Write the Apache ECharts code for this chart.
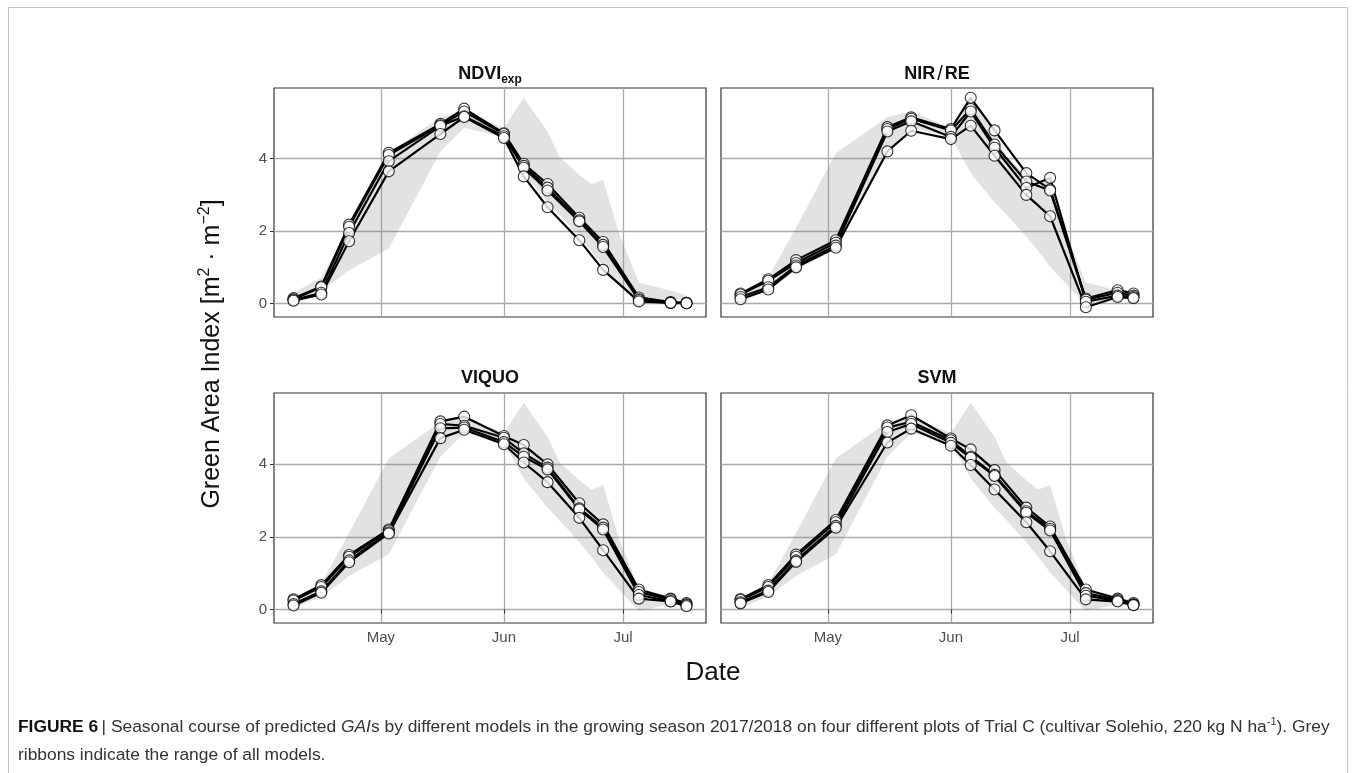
<!DOCTYPE html>
<html>
<head>
<meta charset="utf-8">
<script src="https://cdn.jsdelivr.net/npm/echarts@6/dist/echarts.min.js"></script>
<style>
html, body { margin: 0; padding: 0; background: #fff; }
#chart { width: 1356px; height: 773px; }
</style>
</head>
<body>
<div id="chart"></div>
<script>
// Messtermine (gleich fuer alle vier Parzellen)
const dates = ['2018-04-09', '2018-04-16', '2018-04-23', '2018-05-03', '2018-05-16', '2018-05-22', '2018-06-01',
    '2018-06-06', '2018-06-12', '2018-06-20', '2018-06-26', '2018-07-05', '2018-07-13', '2018-07-17'];

// grauer Bereich: Spannweite aller Modelle
const ribbonDates = ['2018-04-09', '2018-04-16', '2018-04-23', '2018-05-03', '2018-05-16', '2018-05-22', '2018-06-01',
    '2018-06-06', '2018-06-12', '2018-06-15', '2018-06-20', '2018-06-23', '2018-06-26', '2018-06-30',
    '2018-07-05', '2018-07-13', '2018-07-17'];
const ribbonLow = [0.05, 0.35, 0.92, 1.52, 4.20, 4.85, 4.60, 3.60, 2.80, 2.45, 1.85, 1.45, 1.02, 0.55, -0.05, 0.15, 0.08];
const ribbonHigh = [0.30, 0.72, 2.10, 4.15, 5.15, 5.30, 4.85, 5.68, 4.75, 4.05, 3.55, 3.30, 3.42, 1.95, 0.58, 0.36, 0.22];

// GAI je Modell, eine Zeile pro Parzelle
const gaiNdviExp = [
    [0.15, 0.47, 2.18, 4.16, 4.96, 5.38, 4.70, 3.86, 3.30, 2.37, 1.70, 0.17, 0.04, 0.02],
    [0.12, 0.45, 2.12, 4.10, 4.92, 5.30, 4.68, 3.80, 3.20, 2.30, 1.62, 0.12, 0.03, 0.02],
    [0.10, 0.30, 1.95, 3.93, 4.90, 5.17, 4.62, 3.75, 3.12, 2.27, 1.56, 0.10, 0.02, 0.01],
    [0.08, 0.25, 1.72, 3.65, 4.68, 5.15, 4.57, 3.51, 2.66, 1.75, 0.93, 0.06, 0.02, 0.01]
];
const gaiNirRe = [
    [0.28, 0.67, 1.20, 1.75, 4.87, 5.14, 4.82, 5.68, 4.78, 3.60, 3.15, 0.14, 0.37, 0.28],
    [0.25, 0.63, 1.12, 1.68, 4.82, 5.10, 4.78, 5.37, 4.39, 3.37, 3.12, 0.11, 0.30, 0.22],
    [0.18, 0.45, 1.05, 1.60, 4.75, 5.03, 4.60, 5.30, 4.30, 3.19, 3.47, 0.05, 0.22, 0.18],
    [0.12, 0.39, 1.00, 1.54, 4.20, 4.77, 4.54, 4.91, 4.08, 3.00, 2.41, -0.10, 0.18, 0.15]
];
const gaiViquo = [
    [0.28, 0.67, 1.50, 2.20, 5.17, 5.30, 4.77, 4.52, 3.99, 2.92, 2.34, 0.55, 0.30, 0.18],
    [0.25, 0.62, 1.45, 2.17, 5.10, 5.05, 4.72, 4.29, 3.90, 2.78, 2.25, 0.48, 0.28, 0.15],
    [0.15, 0.50, 1.35, 2.12, 4.98, 5.00, 4.60, 4.20, 3.85, 2.75, 2.20, 0.40, 0.23, 0.12],
    [0.11, 0.46, 1.30, 2.09, 4.71, 4.94, 4.54, 4.04, 3.50, 2.52, 1.63, 0.30, 0.22, 0.09]
];
const gaiSvm = [
    [0.29, 0.67, 1.51, 2.46, 5.06, 5.34, 4.70, 4.40, 3.83, 2.80, 2.28, 0.55, 0.30, 0.18],
    [0.26, 0.62, 1.45, 2.40, 5.00, 5.16, 4.65, 4.20, 3.70, 2.70, 2.22, 0.45, 0.27, 0.15],
    [0.20, 0.52, 1.35, 2.30, 4.88, 5.10, 4.58, 4.17, 3.67, 2.66, 2.17, 0.38, 0.24, 0.13],
    [0.17, 0.48, 1.31, 2.25, 4.59, 4.97, 4.50, 3.97, 3.30, 2.40, 1.60, 0.28, 0.22, 0.12]
];

// Datum -> Zeitstempel (lokal)
function ts(s) {
    const [y, m, d] = s.split('-').map(Number);
    return new Date(y, m - 1, d).getTime();
}

// Achsen
const monthTicks = ['2018-05-01', '2018-06-01', '2018-07-01'].map(ts);
const monthNames = ['Jan', 'Feb', 'Mar', 'Apr', 'May', 'Jun', 'Jul', 'Aug', 'Sep', 'Oct', 'Nov', 'Dec'];
const yTicks = [0, 2, 4];
const xMin = new Date(2018, 3, 4, 2).getTime();
const xMax = new Date(2018, 6, 21, 22).getTime();
const yMin = -0.37;
const yMax = 5.95;

const FONT = '"Liberation Sans", Arial, Helvetica, sans-serif';

const panels = [
    { title: '{b|NDVI}{sub|exp}', values: gaiNdviExp, grid: { left: 274, top: 88, width: 432, height: 229 }, cx: 490, ty: 74, bottom: false, left: true },
    { title: '{b|NIR}{sl|/}{b|RE}', values: gaiNirRe, grid: { left: 721, top: 88, width: 432, height: 229 }, cx: 937, ty: 74, bottom: false, left: false },
    { title: '{b|VIQUO}', values: gaiViquo, grid: { left: 274, top: 393, width: 432, height: 230 }, cx: 490, ty: 378, bottom: true, left: true },
    { title: '{b|SVM}', values: gaiSvm, grid: { left: 721, top: 393, width: 432, height: 230 }, cx: 937, ty: 378, bottom: true, left: false }
];

const grids = [];
const xAxes = [];
const yAxes = [];
const series = [];
const graphics = [];

panels.forEach((p, i) => {
    grids.push(Object.assign({ show: true, borderColor: '#333', borderWidth: 1.2 }, p.grid));

    xAxes.push({
        type: 'value', gridIndex: i, min: xMin, max: xMax,
        axisLine: { show: false },
        axisTick: { show: p.bottom, customValues: monthTicks, length: 4, lineStyle: { color: '#333', width: 1 } },
        axisLabel: {
            show: p.bottom, customValues: monthTicks, margin: 7,
            formatter: v => monthNames[new Date(v).getMonth()],
            color: '#4d4d4d', fontSize: 15, fontFamily: FONT
        },
        splitLine: { show: true, lineStyle: { color: '#aaaaaa', width: 1.3 } }
    });

    yAxes.push({
        type: 'value', gridIndex: i, min: yMin, max: yMax,
        axisLine: { show: false },
        axisTick: { show: p.left, customValues: yTicks, length: 4, lineStyle: { color: '#333', width: 1 } },
        axisLabel: { show: p.left, customValues: yTicks, margin: 7, color: '#4d4d4d', fontSize: 15, fontFamily: FONT },
        splitLine: { show: true, lineStyle: { color: '#aaaaaa', width: 1.3 } }
    });

    // Band als Polygon ueber die Achsen des Panels
    series.push({
        type: 'custom', xAxisIndex: i, yAxisIndex: i, silent: true, z: 2,
        encode: { x: 0, y: [1, 2] },
        data: ribbonDates.map((d, k) => [ts(d), ribbonLow[k], ribbonHigh[k]]),
        renderItem: (params, api) => {
            if (params.dataIndex !== 0) return null;
            const upper = ribbonDates.map((d, k) => api.coord([ts(d), ribbonHigh[k]]));
            const lower = ribbonDates.map((d, k) => api.coord([ts(d), ribbonLow[k]])).reverse();
            return {
                type: 'polygon',
                shape: { points: upper.concat(lower) },
                style: { fill: 'rgba(128,128,128,0.23)' }
            };
        }
    });

    p.values.forEach(vals => {
        series.push({
            type: 'line', xAxisIndex: i, yAxisIndex: i, symbol: 'none', z: 3,
            lineStyle: { color: '#000', width: 2.2 },
            data: dates.map((d, k) => [ts(d), vals[k]])
        });
    });
    p.values.forEach(vals => {
        series.push({
            type: 'scatter', xAxisIndex: i, yAxisIndex: i, symbol: 'circle', symbolSize: 11, z: 4,
            itemStyle: { color: '#fff', borderColor: '#000', borderWidth: 1.1 },
            data: dates.map((d, k) => [ts(d), vals[k]])
        });
    });

    // Facettentitel
    graphics.push({
        type: 'text', x: p.cx, y: p.ty,
        style: {
            text: p.title, align: 'center', verticalAlign: 'middle',
            rich: {
                b: { fontSize: 18, fontWeight: 'bold', fontFamily: FONT, fill: '#111', lineHeight: 24 },
                sub: { fontSize: 12, fontWeight: 'bold', fontFamily: FONT, fill: '#111', lineHeight: 12, verticalAlign: 'bottom' },
                sl: { fontSize: 20, fontFamily: FONT, fill: '#111', lineHeight: 24, padding: [0, 2, 0, 2] }
            }
        }
    });
});

// Rahmen der Abbildung
graphics.push({
    type: 'rect', shape: { x: 8.5, y: 7.5, width: 1339, height: 800 },
    style: { fill: 'none', stroke: '#c4c4c4', lineWidth: 1 }, z: -10
});

// Achsentitel
graphics.push({
    type: 'text', x: 212, y: 354, rotation: Math.PI / 2,
    style: {
        text: '{a|Green Area Index [m}{s|2}{a| · m}{s|−2}{a|]}', align: 'center', verticalAlign: 'middle',
        rich: {
            a: { fontSize: 25, fontFamily: FONT, fill: '#111', lineHeight: 30 },
            s: { fontSize: 16, fontFamily: FONT, fill: '#111', lineHeight: 16, verticalAlign: 'top' }
        }
    }
});
graphics.push({
    type: 'text', x: 713, y: 673,
    style: { text: 'Date', align: 'center', verticalAlign: 'middle', fontSize: 26, fontFamily: FONT, fill: '#111' }
});

// Bildunterschrift
graphics.push({
    type: 'text', x: 18, y: 727,
    style: {
        text: '{b|FIGURE 6} {n|| Seasonal course of predicted }{i|GAI}{n|s by different models in the growing season 2017/2018 on four different plots of Trial C (cultivar Solehio, 220 kg N ha}{sup|-1}{n|). Grey}',
        align: 'left', verticalAlign: 'middle',
        rich: {
            b: { fontSize: 17.4, fontWeight: 'bold', fontFamily: FONT, fill: '#111', lineHeight: 22 },
            n: { fontSize: 17.4, fontFamily: FONT, fill: '#333', lineHeight: 22 },
            i: { fontSize: 17.4, fontStyle: 'italic', fontFamily: FONT, fill: '#333', lineHeight: 22 },
            sup: { fontSize: 11, fontFamily: FONT, fill: '#333', lineHeight: 12, verticalAlign: 'top' }
        }
    }
});
graphics.push({
    type: 'text', x: 18, y: 755,
    style: { text: 'ribbons indicate the range of all models.', align: 'left', verticalAlign: 'middle', fontSize: 17.4, fontFamily: FONT, fill: '#333' }
});

const chart = echarts.init(document.getElementById('chart'));
chart.setOption({
    animation: false,
    backgroundColor: '#fff',
    grid: grids,
    xAxis: xAxes,
    yAxis: yAxes,
    series: series,
    graphic: graphics
});
</script>
</body>
</html>
